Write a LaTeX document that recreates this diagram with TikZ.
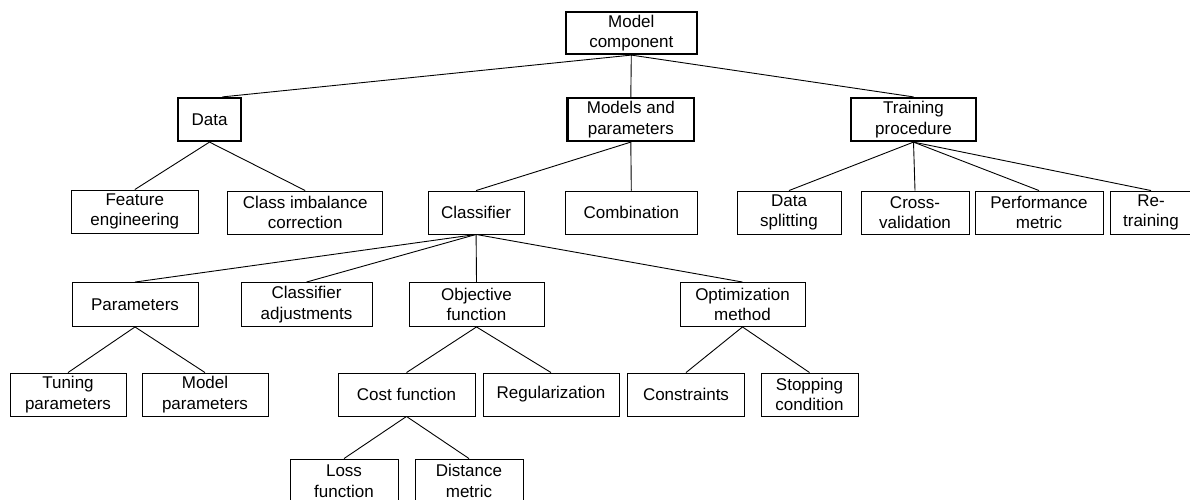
\documentclass[tikz,border=0pt]{standalone}
\usepackage{fontspec}
\setmainfont{Liberation Sans}
\begin{document}
\begin{tikzpicture}[x=1pt,y=-1pt,
  box/.style={draw=black, line width=0.9pt, inner sep=0pt, align=center,
    font=\fontsize{17}{20.5}\selectfont},
  thickbox/.style={box, line width=2.2pt},
  link/.style={draw=black, line width=0.9pt}]
\useasboundingbox[fill=white] (0,0) rectangle (1190,500);
% row 1
\node[thickbox, minimum width=131.4pt, minimum height=42pt] (mc) at (631.3,33) {Model\\component};
% row 2
\node[thickbox, minimum width=63pt, minimum height=43pt] (data) at (209.5,119.5) {Data};
\node[thickbox, minimum width=126.5pt, minimum height=43pt] (mp) at (630.8,119.5) {Models and\\parameters};
\node[thickbox, minimum width=125pt, minimum height=43pt] (tp) at (913.5,119.5) {Training\\procedure};
% row 3
\node[box, minimum width=126.4pt, minimum height=43pt] (fe) at (134.8,211.5) {Feature\\engineering};
\node[box, minimum width=155pt, minimum height=43pt] (ci) at (305.2,212.5) {Class imbalance\\correction};
\node[box, minimum width=96.3pt, minimum height=43pt] (cl) at (476.1,212.5) {Classifier};
\node[box, minimum width=131.4pt, minimum height=43pt] (co) at (631.3,212.5) {Combination};
\node[box, minimum width=104pt, minimum height=43pt] (ds) at (789,212.5) {Data\\splitting};
\node[box, minimum width=108pt, minimum height=43pt] (cv) at (915,212.5) {Cross-\\validation};
\node[box, minimum width=128pt, minimum height=43pt] (pm) at (1039,212.5) {Performance\\metric};
\node[box, minimum width=82pt, minimum height=43pt] (rt) at (1151,212.5) {Re-\\training};
% row 4
\node[box, minimum width=126pt, minimum height=44pt] (pa) at (135,304.5) {Parameters};
\node[box, minimum width=131pt, minimum height=44pt] (ca) at (306.5,304.5) {Classifier\\adjustments};
\node[box, minimum width=135pt, minimum height=44pt] (of) at (476.5,304.5) {Objective\\function};
\node[box, minimum width=125pt, minimum height=44pt] (om) at (742.5,304.5) {Optimization\\method};
% row 5
\node[box, minimum width=116pt, minimum height=43pt] (tu) at (68,394.5) {Tuning\\parameters};
\node[box, minimum width=126pt, minimum height=43pt] (mpa) at (205,394.5) {Model\\parameters};
\node[box, minimum width=137pt, minimum height=43pt] (cf) at (406.5,394.5) {Cost function};
\node[box, minimum width=136pt, minimum height=43pt] (re) at (551,394.5) {Regularization};
\node[box, minimum width=117.5pt, minimum height=43pt] (cs) at (686,394.5) {Constraints};
\node[box, minimum width=97pt, minimum height=43pt] (sc) at (809.5,394.5) {Stopping\\condition};
% row 6
\node[box, minimum width=108pt, minimum height=44pt] (lf) at (344,481) {Loss\\function};
\node[box, minimum width=108pt, minimum height=44pt] (dm) at (469,481) {Distance\\metric};
% connectors
\draw[link] (mc.south) -- ([xshift=13pt]data.north);
\foreach \p/\c in {mc/mp, mc/tp, data/fe, data/ci, mp/cl, mp/co,
  tp/ds, tp/cv, tp/pm, tp/rt, cl/pa, cl/ca, cl/of, cl/om, pa/tu, pa/mpa,
  of/cf, of/re, om/cs, om/sc, cf/lf, cf/dm}
  \draw[link] (\p.south) -- (\c.north);
\end{tikzpicture}
\end{document}
